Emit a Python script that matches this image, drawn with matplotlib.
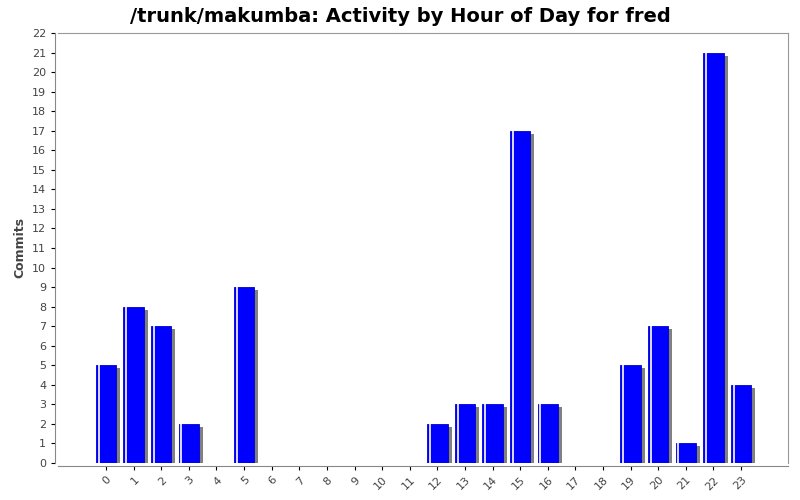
import matplotlib
matplotlib.use("Agg")
import matplotlib.pyplot as plt
import matplotlib.transforms as mtransforms

hours = [str(h) for h in range(24)]
commits = [5, 8, 7, 2, 0, 9, 0, 0, 0, 0, 0, 0, 2, 3, 3, 17, 3, 0, 0, 5, 7, 1, 21, 4]

fig = plt.figure(figsize=(8, 5), dpi=100)
ax = fig.add_axes([0.0725, 0.074, 0.9125, 0.86])
for s in ['top', 'right']:
    ax.spines[s].set_color('#999999')
ax.spines['left'].set_color('#888888')
ax.spines['bottom'].set_color('#888888')
ax.spines['bottom'].set_position(('outward', 2))
ax.spines['left'].set_position(('outward', 2))

x = list(range(24))
w = 0.74
shadow_tr = mtransforms.offset_copy(ax.transData, fig=fig, x=4, y=-3, units='dots')
ax.bar(x, commits, width=w, color='#808080', transform=shadow_tr, zorder=2)
ax.bar(x, commits, width=w, color='#0000ff', edgecolor='#0000cc', linewidth=0.6, zorder=3)
for xi, v in zip(x, commits):
    if v > 0:
        ax.plot([xi - w/2 + 0.1, xi - w/2 + 0.1], [0, v], color='white', lw=1.2, zorder=4)

ax.set_xlim(-1.74, 24.7)
ax.set_ylim(0, 22)
ax.set_yticks(range(23))
ax.set_xticks(x)
ax.set_xticklabels(hours, rotation=45, ha='right', rotation_mode='anchor', fontsize=8, color='#444444')
ax.tick_params(axis='y', labelsize=8, labelcolor='#444444', length=3)
ax.tick_params(axis='x', length=3)
ax.set_ylabel('Commits', fontsize=9, fontweight='bold', color='#444444')
fig.suptitle('/trunk/makumba: Activity by Hour of Day for fred', fontsize=14, fontweight='bold', y=0.985)
fig.savefig('out.png', dpi=100, facecolor='white')
